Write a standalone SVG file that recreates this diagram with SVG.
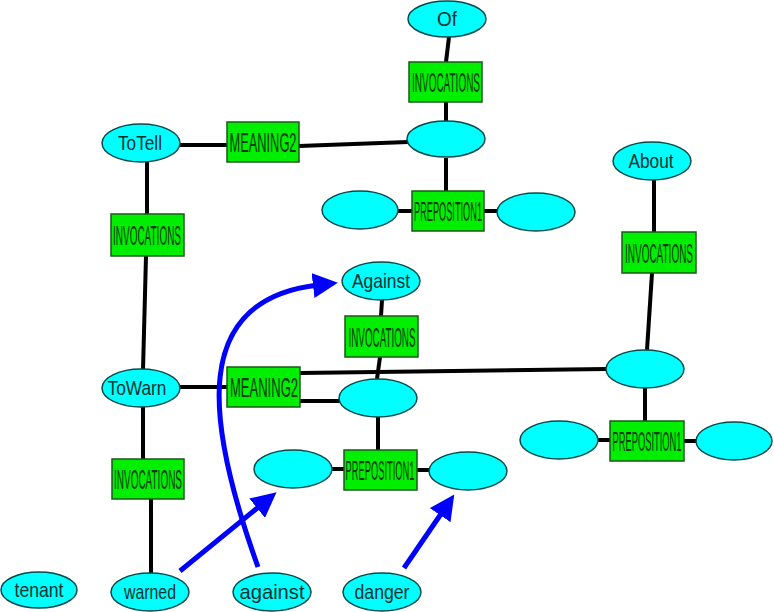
<svg xmlns="http://www.w3.org/2000/svg" width="774" height="612" viewBox="0 0 774 612">
<style>
.e{fill:#00ffff;stroke:#0a4a4a;stroke-width:1.5}
.b{fill:#00ee00;stroke:#1a5a1a;stroke-width:1.5}
.et{font-family:"Liberation Sans",Arial,sans-serif;font-size:21px;fill:#0a3030;text-anchor:middle}
.bt{font-family:"Liberation Sans",Arial,sans-serif;font-size:28px;fill:#0a3a0a;text-anchor:middle}
.c{stroke:#000;stroke-width:4;fill:none}
.a{stroke:#0000ff;stroke-width:5;fill:none;marker-end:url(#ah)}
</style>
<defs>
<marker id="ah" viewBox="0 0 10 10" refX="2" refY="5" markerWidth="5" markerHeight="5" orient="auto" markerUnits="strokeWidth">
<path d="M0,0 L10,5 L0,10 z" fill="#0000ff"/>
</marker>
</defs>
<rect width="774" height="612" fill="#fff"/>
<g id="connectors">
<line class="c" x1="449" y1="37" x2="446" y2="62"/>
<line class="c" x1="446" y1="102" x2="446" y2="121"/>
<line class="c" x1="446" y1="158" x2="446" y2="191"/>
<line class="c" x1="398" y1="211" x2="412" y2="211"/>
<line class="c" x1="484" y1="211" x2="498" y2="211"/>
<line class="c" x1="180" y1="145" x2="227" y2="145"/>
<line class="c" x1="299" y1="146" x2="408" y2="142"/>
<line class="c" x1="147" y1="162" x2="147" y2="214"/>
<line class="c" x1="146" y1="256" x2="143" y2="370"/>
<line class="c" x1="180" y1="387" x2="227" y2="387"/>
<line class="c" x1="300" y1="373" x2="607" y2="369"/>
<line class="c" x1="300" y1="401" x2="340" y2="401"/>
<line class="c" x1="382" y1="300" x2="381" y2="316"/>
<line class="c" x1="380" y1="357" x2="377" y2="379"/>
<line class="c" x1="378" y1="417" x2="378" y2="450"/>
<line class="c" x1="332" y1="469" x2="344" y2="469"/>
<line class="c" x1="417" y1="470" x2="430" y2="470"/>
<line class="c" x1="654" y1="180" x2="654" y2="232"/>
<line class="c" x1="652" y1="273" x2="647" y2="350"/>
<line class="c" x1="645" y1="387" x2="645" y2="421"/>
<line class="c" x1="598" y1="440" x2="610" y2="440"/>
<line class="c" x1="684" y1="441" x2="697" y2="441"/>
<line class="c" x1="143" y1="407" x2="143" y2="459"/>
<line class="c" x1="151" y1="499" x2="151" y2="573"/>
<line class="a" x1="180" y1="571" x2="261" y2="505"/>
<path class="a" d="M258,567 C205,420 190,300 318,285"/>
<line class="a" x1="404" y1="568" x2="443" y2="511"/>
</g>
<g id="Of"><ellipse class="e" cx="447" cy="19" rx="39" ry="18"/><text class="et" x="447" y="26" textLength="20" lengthAdjust="spacingAndGlyphs">Of</text></g>
<g id="inv_of"><rect class="b" x="409" y="62" width="73" height="40"/><text class="bt" x="446" y="92" textLength="68" lengthAdjust="spacingAndGlyphs">INVOCATIONS</text></g>
<g id="meaning_tell_target"><ellipse class="e" cx="446" cy="139" rx="39" ry="18"/></g>
<g id="prep_top"><rect class="b" x="412" y="191" width="72" height="40"/><text class="bt" x="448" y="221" textLength="68" lengthAdjust="spacingAndGlyphs">PREPOSITION1</text></g>
<g id="prep_top_left"><ellipse class="e" cx="360" cy="210" rx="38" ry="19"/></g>
<g id="prep_top_right"><ellipse class="e" cx="536" cy="212" rx="39" ry="19"/></g>
<g id="ToTell"><ellipse class="e" cx="141" cy="143" rx="39" ry="19"/><text class="et" x="140" y="150" textLength="44" lengthAdjust="spacingAndGlyphs">ToTell</text></g>
<g id="meaning_tell"><rect class="b" x="227" y="122" width="72" height="40"/><text class="bt" x="263" y="152" textLength="67" lengthAdjust="spacingAndGlyphs">MEANING2</text></g>
<g id="inv_tell"><rect class="b" x="111" y="214" width="73" height="42"/><text class="bt" x="147" y="245" textLength="68" lengthAdjust="spacingAndGlyphs">INVOCATIONS</text></g>
<g id="About"><ellipse class="e" cx="652" cy="161" rx="39" ry="19"/><text class="et" x="651" y="168" textLength="45" lengthAdjust="spacingAndGlyphs">About</text></g>
<g id="inv_about"><rect class="b" x="622" y="232" width="74" height="41"/><text class="bt" x="659" y="263" textLength="68" lengthAdjust="spacingAndGlyphs">INVOCATIONS</text></g>
<g id="about_node"><ellipse class="e" cx="645" cy="369" rx="39" ry="19"/></g>
<g id="prep_right"><rect class="b" x="610" y="421" width="74" height="40"/><text class="bt" x="647" y="451" textLength="69" lengthAdjust="spacingAndGlyphs">PREPOSITION1</text></g>
<g id="prep_right_left"><ellipse class="e" cx="559" cy="440" rx="39" ry="19"/></g>
<g id="prep_right_right"><ellipse class="e" cx="734" cy="441" rx="38" ry="19"/></g>
<g id="ToWarn"><ellipse class="e" cx="141" cy="388" rx="39" ry="19"/><text class="et" x="137" y="395" textLength="59" lengthAdjust="spacingAndGlyphs">ToWarn</text></g>
<g id="meaning_warn"><rect class="b" x="227" y="367" width="73" height="40"/><text class="bt" x="264" y="397" textLength="68" lengthAdjust="spacingAndGlyphs">MEANING2</text></g>
<g id="Against"><ellipse class="e" cx="381" cy="281" rx="39" ry="19"/><text class="et" x="381" y="288" textLength="58" lengthAdjust="spacingAndGlyphs">Against</text></g>
<g id="inv_against"><rect class="b" x="345" y="316" width="73" height="41"/><text class="bt" x="382" y="347" textLength="67" lengthAdjust="spacingAndGlyphs">INVOCATIONS</text></g>
<g id="against_node"><ellipse class="e" cx="378" cy="398" rx="39" ry="19"/></g>
<g id="prep_mid"><rect class="b" x="344" y="450" width="73" height="40"/><text class="bt" x="380" y="480" textLength="69" lengthAdjust="spacingAndGlyphs">PREPOSITION1</text></g>
<g id="prep_mid_left"><ellipse class="e" cx="293" cy="469" rx="39" ry="19"/></g>
<g id="prep_mid_right"><ellipse class="e" cx="468" cy="471" rx="39" ry="19"/></g>
<g id="inv_warn"><rect class="b" x="112" y="459" width="72" height="40"/><text class="bt" x="148" y="489" textLength="68" lengthAdjust="spacingAndGlyphs">INVOCATIONS</text></g>
<g id="tenant"><ellipse class="e" cx="39" cy="590" rx="38" ry="18"/><text class="et" x="39" y="597" textLength="49" lengthAdjust="spacingAndGlyphs">tenant</text></g>
<g id="warned"><ellipse class="e" cx="150" cy="592" rx="39" ry="19"/><text class="et" x="150" y="599" textLength="52" lengthAdjust="spacingAndGlyphs">warned</text></g>
<g id="against"><ellipse class="e" cx="272" cy="592" rx="39" ry="19"/><text class="et" x="272" y="599" textLength="65" lengthAdjust="spacingAndGlyphs">against</text></g>
<g id="danger"><ellipse class="e" cx="382" cy="592" rx="39" ry="19"/><text class="et" x="382" y="599" textLength="55" lengthAdjust="spacingAndGlyphs">danger</text></g>
</svg>
